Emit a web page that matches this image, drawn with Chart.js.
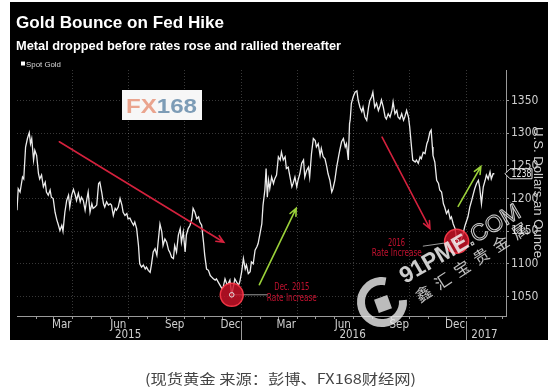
<!DOCTYPE html>
<html>
<head>
<meta charset="utf-8">
<script src="https://cdn.jsdelivr.net/npm/chart.js@4.4.1/dist/chart.umd.min.js"></script>
<style>
    html, body { margin: 0; padding: 0; background: #fff; }
</style>
</head>
<body>
<canvas id="goldChart" width="556" height="390"></canvas>
<script>
// Dados: dias contados a partir de 01/01/2015 e preço spot do ouro (US$/oz)
const goldDay = [0,2,5,9,11,14,17,20,22,24,27,29,32,35,37,40,43,46,48,51,54,56,59,62,65,67,70,73,75,78,81,84,86,89,92,95,97,100,103,105,108,111,114,116,119,122,124,127,130,133,135,138,141,143,146,149,152,154,157,160,162,165,168,171,173,176,179,181,184,187,190,192,195,198,200,203,206,209,211,214,217,219,222,225,228,230,233,236,238,241,244,247,249,252,255,257,260,263,266,268,271,274,276,279,282,285,287,290,293,296,298,301,304,306,309,312,315,317,320,323,325,328,331,334,336,339,342,344,347,350,352,355,358,361,363,366,369,372,374,377,380,382,385,388,391,393,396,399,401,404,406,408,410,412,415,418,420,423,426,429,431,434,437,439,442,445,448,450,453,456,458,461,464,467,469,472,475,477,480,483,486,488,491,494,496,499,502,505,507,510,513,515,518,521,524,526,529,532,535,537,540,542,543,545,548,551,554,556,559,562,564,567,570,573,575,578,580,583,586,589,592,594,597,600,602,605,608,611,613,616,619,621,624,627,630,632,635,638,640,643,645,649,651,654,657,659,662,665,668,670,673,675,677,678,681,684,687,689,692,695,697,700,703,706,708,711,714,716,718,722,727,730,735,738,741,744,746,749,752,754,757,760,763,765,768,771,773,776,778];
const goldPrice = [1182,1215,1210,1233,1230,1279,1292,1301,1284,1292,1259,1274,1266,1238,1230,1236,1218,1225,1210,1205,1213,1202,1200,1179,1167,1161,1151,1159,1150,1179,1197,1205,1187,1205,1214,1205,1197,1208,1195,1202,1197,1182,1200,1210,1179,1192,1185,1187,1190,1223,1225,1210,1192,1187,1195,1190,1192,1190,1174,1185,1182,1187,1200,1190,1179,1174,1177,1169,1170,1164,1159,1164,1154,1128,1100,1095,1098,1092,1095,1090,1087,1098,1118,1123,1113,1133,1161,1149,1128,1138,1133,1121,1118,1110,1108,1128,1118,1144,1154,1133,1149,1118,1144,1154,1159,1169,1185,1179,1169,1172,1164,1159,1133,1113,1092,1090,1082,1080,1077,1075,1077,1072,1067,1062,1064,1077,1069,1069,1075,1052,1062,1077,1072,1067,1072,1087,1108,1092,1098,1085,1088,1103,1100,1121,1126,1131,1146,1161,1190,1213,1246,1202,1228,1215,1233,1223,1230,1236,1264,1259,1271,1259,1264,1246,1248,1233,1218,1223,1233,1218,1228,1238,1254,1259,1233,1243,1248,1233,1269,1292,1289,1279,1284,1266,1277,1264,1261,1248,1238,1228,1210,1215,1228,1248,1264,1274,1287,1292,1279,1284,1259,1315,1320,1346,1356,1363,1365,1351,1340,1333,1340,1325,1320,1340,1350,1356,1363,1340,1346,1335,1343,1351,1340,1325,1322,1330,1325,1335,1348,1330,1335,1325,1322,1330,1320,1325,1335,1325,1310,1279,1259,1256,1259,1254,1264,1261,1271,1269,1284,1289,1302,1305,1279,1266,1256,1228,1223,1213,1210,1192,1187,1177,1182,1169,1172,1161,1154,1140,1128,1132,1146,1158,1172,1187,1197,1208,1215,1223,1228,1218,1192,1218,1228,1236,1230,1241,1230,1238,1238];

// Rótulos dos eixos
const monthLabels = ['Mar', 'Jun', 'Sep', 'Dec', 'Mar', 'Jun', 'Sep', 'Dec'];
const monthLabelDates = ['2015-03-15', '2015-06-15', '2015-09-15', '2015-12-15', '2016-03-15', '2016-06-15', '2016-09-15', '2016-12-15'];
const quarterDates = ['2015-04-01', '2015-07-01', '2015-10-01', '2016-01-01', '2016-04-01', '2016-07-01', '2016-10-01', '2017-01-01'];
const yearLabels = ['2015', '2016', '2017'];
const yearLabelDates = ['2015-07-01', '2016-07-01', '2017-02-01'];
const yearBreakDates = ['2016-01-01', '2017-01-01'];
const priceTicks = [1050, 1100, 1150, 1200, 1250, 1300, 1350];
const lastPrice = 1238;

const START = Date.parse('2015-01-01');
const toDay = (s) => Math.round((Date.parse(s) - START) / 864e5);

const NARROW = '"Liberation Sans Narrow", "DejaVu Sans Condensed", sans-serif';
const SANS = '"Liberation Sans", Arial, sans-serif';

// Texto ajustado a uma largura fixa
function fitText(ctx, text, x, y, width, align) {
    const w = ctx.measureText(text).width;
    const k = width ? width / w : 1;
    ctx.save();
    ctx.translate(x, y);
    ctx.scale(k, 1);
    ctx.textAlign = align || 'left';
    ctx.fillText(text, 0, 0);
    ctx.restore();
}

function arrow(ctx, x1, y1, x2, y2, color) {
    const ang = Math.atan2(y2 - y1, x2 - x1);
    const h = 8, spread = 0.42;
    ctx.save();
    ctx.strokeStyle = color;
    ctx.lineWidth = 1.6;
    ctx.lineCap = 'round';
    ctx.beginPath();
    ctx.moveTo(x1, y1);
    ctx.lineTo(x2, y2);
    ctx.moveTo(x2 - h * Math.cos(ang - spread), y2 - h * Math.sin(ang - spread));
    ctx.lineTo(x2, y2);
    ctx.lineTo(x2 - h * Math.cos(ang + spread), y2 - h * Math.sin(ang + spread));
    ctx.stroke();
    ctx.restore();
}

function rateCircle(ctx, cx, cy, r, lx, ly) {
    ctx.save();
    // linha guia
    ctx.strokeStyle = '#9a9a9a';
    ctx.lineWidth = 1;
    ctx.beginPath();
    ctx.moveTo(cx, cy);
    ctx.lineTo(lx, ly);
    ctx.stroke();
    ctx.beginPath();
    ctx.arc(cx, cy, r, 0, Math.PI * 2);
    ctx.fillStyle = 'rgba(205, 18, 40, 0.82)';
    ctx.fill();
    ctx.lineWidth = 1.5;
    ctx.strokeStyle = 'rgba(255, 60, 75, 0.9)';
    ctx.stroke();
    ctx.beginPath();
    ctx.arc(cx, cy, 2.3, 0, Math.PI * 2);
    ctx.strokeStyle = '#e0e0e0';
    ctx.lineWidth = 1;
    ctx.stroke();
    ctx.restore();
}

const decor = {
    id: 'decor',
    beforeDraw(chart) {
        const ctx = chart.ctx;
        ctx.save();
        ctx.fillStyle = '#fff';
        ctx.fillRect(0, 0, chart.width, chart.height);
        ctx.fillStyle = '#000';
        ctx.fillRect(10, 2, 538, 338);
        ctx.restore();
    },
    beforeDatasetsDraw(chart) {
        const { ctx, chartArea: a, scales: { x } } = chart;
        ctx.save();
        ctx.strokeStyle = 'rgba(255, 255, 255, 0.22)';
        ctx.setLineDash([1, 2]);
        ctx.lineWidth = 1;
        quarterDates.forEach((d) => {
            const px = Math.round(x.getPixelForValue(toDay(d))) + 0.5;
            ctx.beginPath();
            ctx.moveTo(px, a.top);
            ctx.lineTo(px, a.bottom);
            ctx.stroke();
        });
        ctx.restore();
    },
    afterDatasetsDraw(chart) {
        const { ctx, scales: { x, y } } = chart;
        const P = (d, v) => [x.getPixelForValue(d), y.getPixelForValue(v)];

        // Setas
        arrow(ctx, ...P(69, 1287), ...P(337, 1133), '#d4213d');
        arrow(ctx, ...P(595, 1294), ...P(673, 1154), '#d4213d');
        arrow(ctx, ...P(395, 1068), ...P(455, 1185), '#9bd13a');
        arrow(ctx, ...P(719, 1188), ...P(756, 1249), '#9bd13a');

        // Círculos das altas de juros
        rateCircle(ctx, ...P(350, 1052.5), 11.5, ...P(409, 1052.5));
        rateCircle(ctx, ...P(716.5, 1134.5), 12, ...P(661.5, 1127));

        ctx.save();
        ctx.fillStyle = '#c41230';
        ctx.font = '10px ' + NARROW;
        ctx.textBaseline = 'middle';
        let p = P(448, 1064);
        fitText(ctx, 'Dec. 2015', p[0], p[1], 35, 'center');
        p = P(448, 1047);
        fitText(ctx, 'Rate Increase', p[0], p[1], 50, 'center');
        p = P(618.5, 1132);
        fitText(ctx, '2016', p[0], p[1], 17, 'center');
        p = P(619, 1116);
        fitText(ctx, 'Rate Increase', p[0], p[1], 50, 'center');
        ctx.restore();
    },
    afterDraw(chart) {
        const { ctx, scales: { x, y }, chartArea: a } = chart;
        ctx.save();

        // Título e subtítulo
        ctx.fillStyle = '#fff';
        ctx.textBaseline = 'alphabetic';
        ctx.font = 'bold 17px ' + SANS;
        fitText(ctx, 'Gold Bounce on Fed Hike', 16, 28, 208);
        ctx.font = 'bold 12.3px ' + SANS;
        fitText(ctx, 'Metal dropped before rates rose and rallied thereafter', 16, 49.5, 325);

        // Legenda
        ctx.fillRect(21, 61.5, 4, 4);
        ctx.fillStyle = '#d8d8d8';
        ctx.font = '8px ' + SANS;
        fitText(ctx, 'Spot Gold', 26, 66.5, 35);

        // Marcas mensais e separadores de ano
        ctx.strokeStyle = '#9a9a9a';
        ctx.lineWidth = 1;
        for (let yy = 2015; yy <= 2017; yy++) {
            for (let m = 0; m < 12; m++) {
                const d = (Date.UTC(yy, m, 1) - START) / 864e5;
                if (d <= 0 || d > x.max) continue;
                const px = Math.round(x.getPixelForValue(d)) + 0.5;
                ctx.beginPath();
                ctx.moveTo(px, a.bottom);
                ctx.lineTo(px, a.bottom + 3);
                ctx.stroke();
            }
        }
        yearBreakDates.forEach((d) => {
            const px = Math.round(x.getPixelForValue(toDay(d))) + 0.5;
            ctx.beginPath();
            ctx.moveTo(px, a.bottom + 5);
            ctx.lineTo(px, 340);
            ctx.stroke();
        });
        ctx.fillStyle = '#cfcfcf';
        ctx.font = '11.5px ' + NARROW;
        ctx.textAlign = 'center';
        ctx.textBaseline = 'middle';
        yearLabels.forEach((t, i) => {
            ctx.fillText(t, x.getPixelForValue(toDay(yearLabelDates[i])), 335);
        });

        // Título do eixo Y
        ctx.save();
        ctx.translate(538, 192.5);
        ctx.rotate(Math.PI / 2);
        ctx.font = '13px ' + SANS;
        fitText(ctx, 'U.S. Dollars an Ounce', 0, 0, 131, 'center');
        ctx.restore();

        // Etiqueta do último preço
        const ty = y.getPixelForValue(lastPrice);
        ctx.beginPath();
        ctx.moveTo(a.right - 1, ty);
        ctx.lineTo(a.right + 4, ty - 5);
        ctx.lineTo(a.right + 26, ty - 5);
        ctx.lineTo(a.right + 26, ty + 5);
        ctx.lineTo(a.right + 4, ty + 5);
        ctx.closePath();
        ctx.fillStyle = '#000';
        ctx.fill();
        ctx.strokeStyle = '#e8e8e8';
        ctx.stroke();
        ctx.fillStyle = '#f0f0f0';
        ctx.font = '11px ' + NARROW;
        fitText(ctx, String(lastPrice), a.right + 15.5, ty + 0.5, 20, 'center');

        // Logo FX168
        ctx.fillStyle = '#f7f7f7';
        ctx.fillRect(122, 90, 80, 30);
        ctx.textAlign = 'left';
        ctx.textBaseline = 'alphabetic';
        ctx.font = 'bold 20px ' + SANS;
        const wFX = ctx.measureText('FX').width, wAll = ctx.measureText('FX168').width;
        const k = 71 / wAll;
        ctx.save();
        ctx.translate(126, 113);
        ctx.scale(k, 1);
        ctx.fillStyle = '#eaa48e';
        ctx.fillText('FX', 0, 0);
        ctx.fillStyle = '#7d9cb6';
        ctx.fillText('168', wFX, 0);
        ctx.restore();

        // Marca d'água 91PME
        ctx.save();
        ctx.strokeStyle = 'rgba(235, 235, 235, 0.8)';
        ctx.fillStyle = 'rgba(235, 235, 235, 0.8)';
        ctx.lineWidth = 8;
        ctx.beginPath();
        ctx.arc(382, 302, 21, -5 * Math.PI / 180, 280 * Math.PI / 180);
        ctx.stroke();
        ctx.translate(383, 304);
        ctx.rotate(-0.35);
        ctx.fillRect(-7, -7, 14, 14);
        ctx.restore();

        ctx.save();
        ctx.translate(405, 284);
        ctx.rotate(-30 * Math.PI / 180);
        ctx.font = 'bold 23px ' + SANS;
        ctx.fillStyle = 'rgba(240, 240, 240, 0.85)';
        ctx.fillText('91PME', 0, 0);
        const w91 = ctx.measureText('91PME').width;
        ctx.font = '23px ' + SANS;
        ctx.strokeStyle = 'rgba(240, 240, 240, 0.85)';
        ctx.lineWidth = 1;
        ctx.strokeText('.COM', w91, 0);
        ctx.restore();

        ctx.save();
        ctx.translate(420, 303);
        ctx.rotate(-33 * Math.PI / 180);
        ctx.font = '16px "Noto Sans CJK SC"';
        ctx.fillStyle = 'rgba(240, 240, 240, 0.8)';
        '鑫汇宝贵金属'.split('').forEach((ch, i) => ctx.fillText(ch, i * 23, 0));
        ctx.restore();

        // Legenda da fonte
        ctx.fillStyle = '#444';
        ctx.font = '14px "Noto Sans CJK SC"';
        ctx.textBaseline = 'middle';
        fitText(ctx, '(现货黄金 来源：彭博、FX168财经网)', 280.5, 378.5, 271, 'center');

        ctx.restore();
    }
};

const goldChart = new Chart(document.getElementById('goldChart'), {
    type: 'line',
    data: {
        datasets: [{
            label: 'Spot Gold',
            data: goldDay.map((d, i) => ({ x: d, y: goldPrice[i] })),
            borderColor: '#ececec',
            borderWidth: 1.3,
            pointRadius: 0,
            tension: 0
        }]
    },
    options: {
        responsive: false,
        animation: false,
        devicePixelRatio: 1,
        layout: { padding: { left: 17, top: 70, right: 0, bottom: 0 } },
        plugins: {
            legend: { display: false },
            tooltip: { enabled: false }
        },
        scales: {
            x: {
                type: 'linear',
                min: 0,
                max: 797,
                afterBuildTicks: (s) => { s.ticks = monthLabelDates.map((d) => ({ value: toDay(d) })); },
                afterFit: (s) => { s.height = 74; },
                ticks: {
                    color: '#cfcfcf',
                    font: { family: NARROW, size: 11.5 },
                    padding: 2,
                    maxRotation: 0,
                    autoSkip: false,
                    callback: (v, i) => monthLabels[i]
                },
                grid: { display: false, drawTicks: false },
                border: { display: true, color: '#9a9a9a', width: 1 }
            },
            y: {
                position: 'right',
                min: 1020,
                max: 1397,
                afterBuildTicks: (s) => { s.ticks = priceTicks.map((v) => ({ value: v })); },
                afterFit: (s) => { s.width = 50; },
                ticks: {
                    color: '#cfcfcf',
                    font: { family: NARROW, size: 12 },
                    padding: 2,
                    callback: (v) => String(v)
                },
                grid: {
                    color: 'rgba(255, 255, 255, 0.22)',
                    tickColor: '#9a9a9a',
                    tickLength: 3,
                    tickBorderDash: []
                },
                border: { display: true, color: '#9a9a9a', width: 1, dash: [1, 2] }
            }
        }
    },
    plugins: [decor]
});
</script>
</body>
</html>
